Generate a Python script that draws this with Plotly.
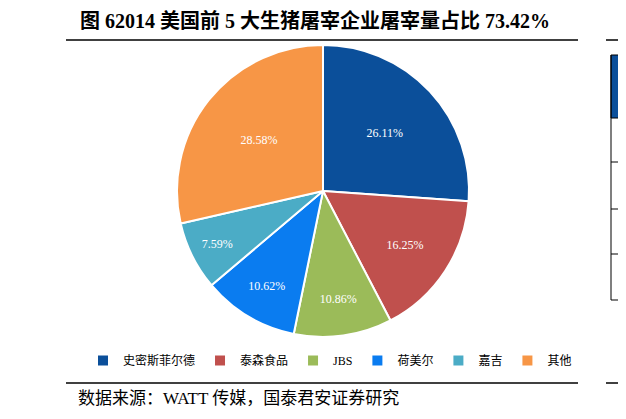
import plotly.graph_objects as go

labels = ["史密斯菲尔德", "泰森食品", "JBS", "荷美尔", "嘉吉", "其他"]
values = [26.11, 16.25, 10.86, 10.62, 7.59, 28.58]
colors = ["#0b4f9a", "#c0504d", "#9bbb59", "#0a7cf0", "#4bacc6", "#f79646"]
W, H = 626, 419
OX, OY = 8, 8
def px(x): return (x - OX) / W
def py(y): return 1 - (y - OY) / H

FONT = "Liberation Serif, Noto Sans CJK SC"
fig = go.Figure(go.Pie(
    labels=labels, values=values, sort=False, direction="clockwise", rotation=0,
    marker=dict(colors=colors, line=dict(color="white", width=2)),
    texttemplate="%{value:.2f}%", textposition="inside", insidetextorientation="horizontal",
    textfont=dict(color="white", size=12, family=FONT),
    domain=dict(x=[px(177), px(469)], y=[py(337), py(45)]),
))
def hline(x0, x1, y, w=1.6):
    return dict(type="rect", xref="paper", yref="paper", x0=px(x0), x1=px(x1),
                y0=py(y + w / 2), y1=py(y - w / 2), fillcolor="black", line=dict(width=0), layer="above")
shapes = [hline(66, 578, 40), hline(66, 578, 383), hline(606, 640, 40), hline(606, 640, 383),
          dict(type="rect", xref="paper", yref="paper", x0=px(611), x1=px(640), y0=py(118), y1=py(55),
               fillcolor="#0b4f9a", line=dict(color="black", width=1)),
          hline(611, 640, 162, 1), hline(611, 640, 209, 1), hline(611, 640, 254, 1), hline(611, 640, 300, 1),
          dict(type="rect", xref="paper", yref="paper", x0=px(610.5), x1=px(611.5), y0=py(300), y1=py(55),
               fillcolor="black", line=dict(width=0))]
fig.update_layout(
    width=W, height=H, margin=dict(l=0, r=0, t=0, b=0),
    paper_bgcolor="white", plot_bgcolor="white",
    font=dict(family=FONT, color="black"),
    legend=dict(orientation="h", x=px(330), xanchor="center", y=py(346), yanchor="top",
                font=dict(size=12, family=FONT), itemwidth=30, traceorder="normal"),
    annotations=[
        dict(text="<b>图 62014 美国前 5 大生猪屠宰企业屠宰量占比 73.42%</b>", x=px(78), y=py(20),
             xref="paper", yref="paper", xanchor="left", yanchor="middle", showarrow=False,
             font=dict(size=20, family=FONT)),
        dict(text="数据来源：WATT 传媒，国泰君安证券研究", x=px(76), y=py(398),
             xref="paper", yref="paper", xanchor="left", yanchor="middle", showarrow=False,
             font=dict(size=17, family=FONT)),
    ],
    shapes=shapes,
)
fig.write_html("out.html")
